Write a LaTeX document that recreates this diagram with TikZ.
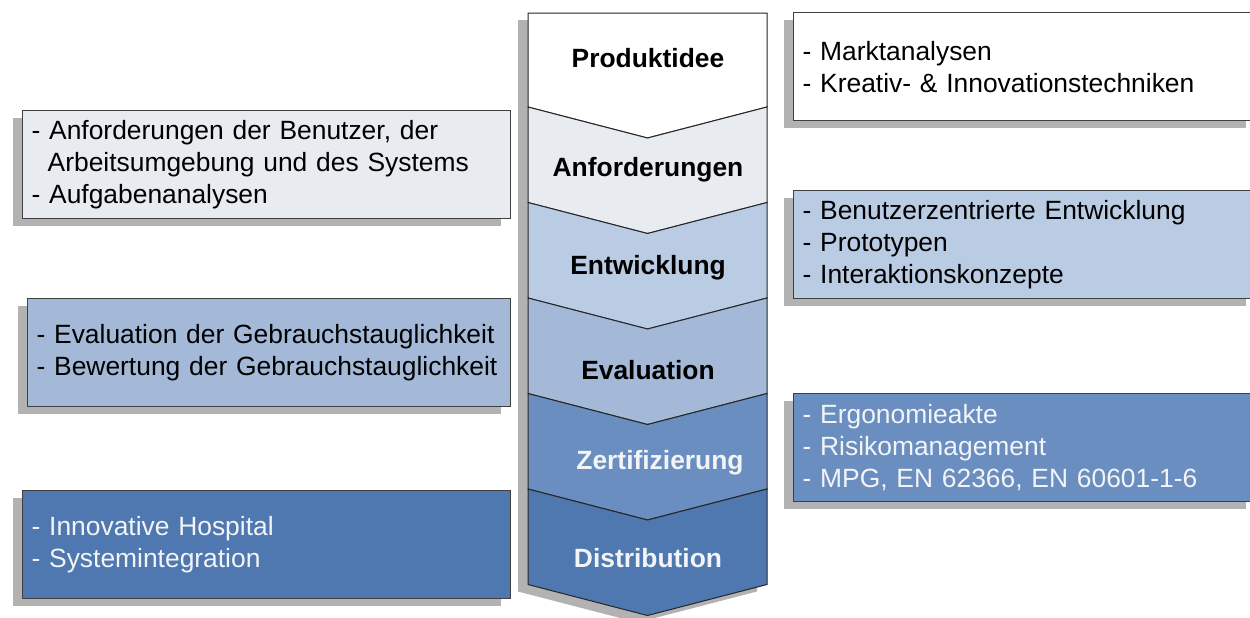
\documentclass[tikz,border=0pt]{standalone}
\usepackage{fontspec}
\setmainfont{Liberation Sans}
\usetikzlibrary{shadows}

\definecolor{phaseA}{HTML}{FFFFFF}
\definecolor{phaseB}{HTML}{E8ECF0}
\definecolor{phaseC}{HTML}{B9CCE3}
\definecolor{phaseD}{HTML}{A4B9D7}
\definecolor{phaseE}{HTML}{6A8EBF}
\definecolor{phaseF}{HTML}{4E78AF}
\definecolor{shadowgray}{HTML}{B2B2B2}
\definecolor{lighttext}{HTML}{F2F4F8}

\begin{document}
\begin{tikzpicture}[x=0.5pt, y=-0.5pt,
	font=\fontsize{13.2pt}{16pt}\selectfont,
	chev/.style  = {draw=black!85, line width=0.5pt},
	phase/.style = {font=\fontsize{13.2pt}{16pt}\selectfont\bfseries},
	basic/.style = {draw=black!75, line width=0.6pt, rectangle, anchor=north west, align=left,
		inner xsep=4.5pt, inner ysep=0pt, minimum height=54pt,
		drop shadow={shadow xshift=-5pt, shadow yshift=-3.5pt, fill=shadowgray, opacity=1}},
	left note/.style  = {basic, text width=235pt},
	right note/.style = {basic, text width=222pt}]

	\useasboundingbox (0,0) rectangle (1250,617);

	% shadow of the column
	\fill[shadowgray] (518,20) -- (757,20) -- (757,591.5) -- (637.5,622.5) -- (518,591.5) -- cycle;

	% chevrons
	\draw[chev, fill=phaseA] (528,13) -- (767,13) -- (767,107) -- (647.5,138) -- (528,107) -- cycle;
	\foreach \k/\col in {1/phaseB,2/phaseC,3/phaseD,4/phaseE,5/phaseF}{
		\pgfmathsetmacro{\ya}{107+95.5*(\k-1)}
		\pgfmathsetmacro{\yb}{107+95.5*\k}
		\draw[chev, fill=\col] (528,\ya) -- (647.5,\ya+31) -- (767,\ya) -- (767,\yb) -- (647.5,\yb+31) -- (528,\yb) -- cycle;
	}

	\node[phase] (p1) at (648,58) {Produktidee};
	\node[phase] (p2) at (648,170) {Anforderungen};
	\node[phase] (p3) at (648,268) {Entwicklung};
	\node[phase] (p4) at (648,370) {Evaluation};
	\node[phase, text=lighttext] (p5) at (660,463) {Zertifizierung};
	\node[phase, text=lighttext] (p6) at (648,558) {Distribution};

	% notes left
	\node[left note, fill=phaseB] (n2) at (22,110) {- Anforderungen der Benutzer, der\\\hspace*{0.61em}Arbeitsumgebung und des Systems\\- Aufgabenanalysen};
	\node[left note, fill=phaseD, text width=232.5pt] (n4) at (27,298) {- Evaluation der Gebrauchstauglichkeit\\- Bewertung der Gebrauchstauglichkeit};
	\node[left note, fill=phaseF, text=lighttext] (n6) at (22,490) {- Innovative Hospital\\- Systemintegration};

	% notes right
	\node[right note, fill=phaseA] (n1) at (793,12) {- Marktanalysen\\- Kreativ- \& Innovationstechniken};
	\node[right note, fill=phaseC] (n3) at (793,190) {- Benutzerzentrierte Entwicklung\\- Prototypen\\- Interaktionskonzepte};
	\node[right note, fill=phaseE, text=lighttext] (n5) at (793,393) {- Ergonomieakte\\- Risikomanagement\\- MPG, EN 62366, EN 60601-1-6};

\end{tikzpicture}
\end{document}
